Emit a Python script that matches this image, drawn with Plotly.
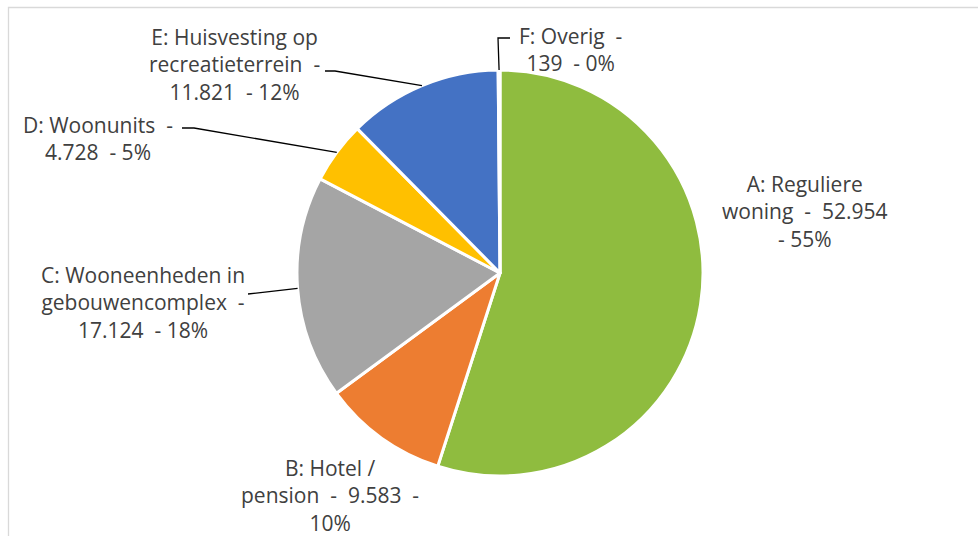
import math
import plotly.graph_objects as go

# data
categories = ['A: Reguliere woning', 'B: Hotel / pension', 'C: Wooneenheden in gebouwencomplex',
              'D: Woonunits', 'E: Huisvesting op recreatieterrein', 'F: Overig']
values = [52954, 9583, 17124, 4728, 11821, 139]
colors = ['#8FBC3F', '#ED7D31', '#A5A5A5', '#FFC000', '#4472C4', '#A5A5A5']
label_texts = [
    'A: Reguliere<br>woning  -  52.954<br>- 55%',
    'B: Hotel /<br>pension  -  9.583  -<br>10%',
    'C: Wooneenheden in<br>gebouwencomplex  -<br>17.124  - 18%',
    'D: Woonunits  -<br>4.728  - 5%',
    'E: Huisvesting op<br>recreatieterrein  -<br>11.821  - 12%',
    'F: Overig  -<br>139  - 0%',
]

W, H = 978, 536
CX, CY, R = 500, 273, 203

# label block centres (px) and where a leader line leaves the label (None = no leader)
label_pos = [(805, 211), (330, 495), (143, 302), (98, 139), (234, 64), (570, 50)]
leader_start = [None, None, [(248, 294)], [(182, 128), (194, 128)],
                [(325, 71), (335, 71)], [(510, 38), (498, 38)]]


def px(x, y):
    return x / W, 1 - y / H


fig = go.Figure(go.Pie(
    labels=categories,
    values=values,
    sort=False,
    direction='clockwise',
    rotation=0,
    textinfo='none',
    hoverinfo='label+value+percent',
    marker=dict(colors=colors, line=dict(color='white', width=3)),
    domain=dict(x=[(CX - R) / W, (CX + R) / W], y=[1 - (CY + R) / H, 1 - (CY - R) / H]),
    showlegend=False,
))

total = sum(values)
cum = 0
shapes = []
annotations = []
for i, v in enumerate(values):
    mid = (cum + v / 2) / total * 2 * math.pi
    cum += v
    ex, ey = CX + R * math.sin(mid), CY - R * math.cos(mid)
    lx, ly = label_pos[i]
    annotations.append(dict(
        x=px(lx, ly)[0], y=px(lx, ly)[1], xref='paper', yref='paper',
        text=label_texts[i], showarrow=False, xanchor='center', yanchor='middle',
        align='center', font=dict(family='Open Sans', size=21, color='#404040'),
    ))
    if leader_start[i]:
        pts = leader_start[i] + [(ex, ey)]
        path = 'M ' + ' L '.join(f'{px(x, y)[0]},{px(x, y)[1]}' for x, y in pts)
        shapes.append(dict(type='path', path=path, xref='paper', yref='paper',
                           line=dict(color='#000000', width=1.3)))

# chart area border
shapes.append(dict(type='rect', xref='paper', yref='paper', x0=8.5 / W, x1=1.02, y0=-0.02,
                   y1=1 - 7.5 / H, line=dict(color='#D9D9D9', width=1.3), layer='below'))

fig.update_layout(
    width=W, height=H,
    margin=dict(l=0, r=0, t=0, b=0),
    paper_bgcolor='white',
    plot_bgcolor='white',
    shapes=shapes,
    annotations=annotations,
)

# drop the default page margin so the figure sits at the window's top-left
fig.write_html('out.html', config={'displayModeBar': False},
               post_script="document.body.style.margin='0px';")
